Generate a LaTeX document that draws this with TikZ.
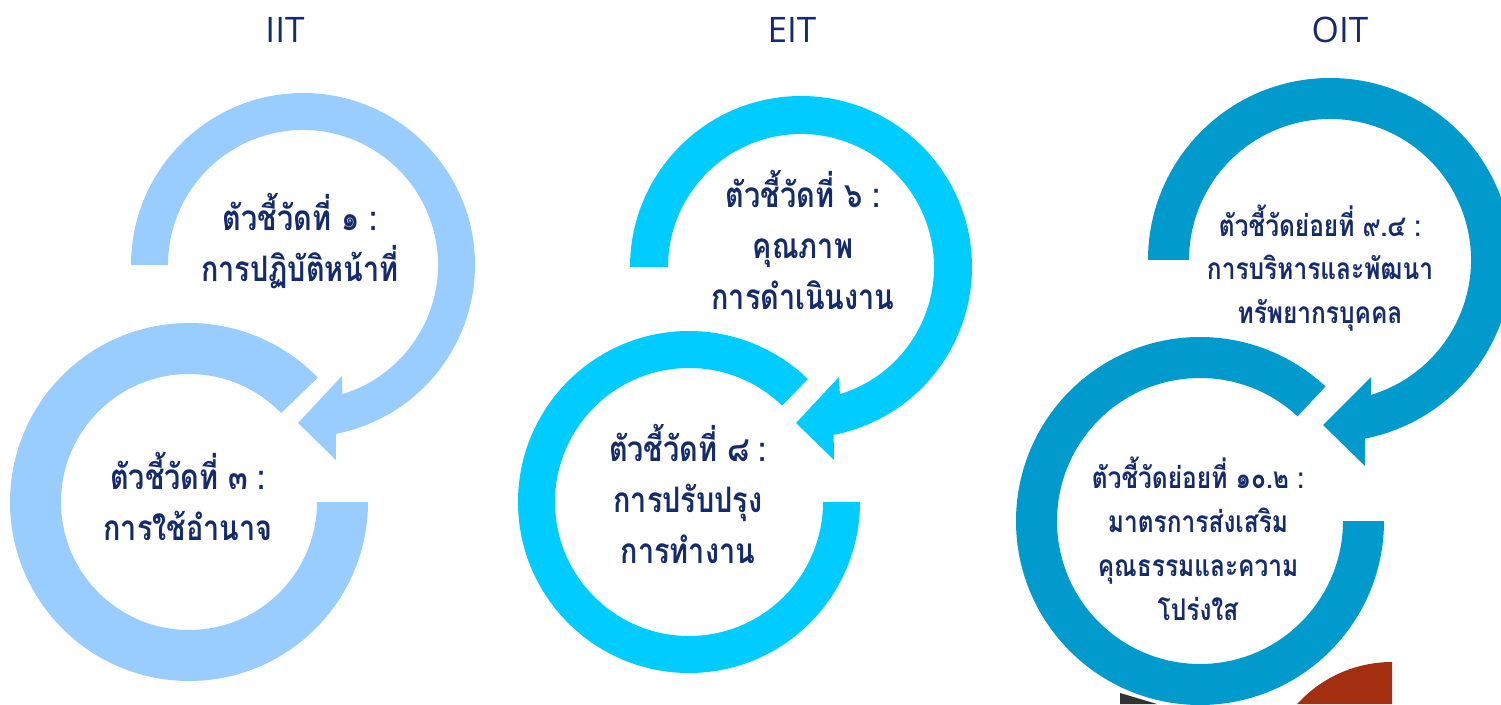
\documentclass[tikz,border=0pt]{standalone}
\usepackage{fontspec}
\setmainfont{Open Sans}
\newfontfamily\thaifont[Script=Thai, FakeStretch=0.82]{Loma}
\definecolor{iitblue}{HTML}{99CCFF}
\definecolor{eitblue}{HTML}{00CCFF}
\definecolor{oitblue}{HTML}{009BCC}
\definecolor{navy}{HTML}{152B6B}
\definecolor{rust}{HTML}{A32F10}
\definecolor{darkgrey}{HTML}{333333}
\tikzset{
  title/.style={text=navy, font=\fontsize{20}{24}\selectfont},
  label/.style={text=navy, align=center, font=\thaifont\bfseries\fontsize{20}{29}\selectfont},
  small label/.style={label, font=\thaifont\bfseries\fontsize{17}{25}\selectfont},
}
\begin{document}
\begin{tikzpicture}[x=0.02cm, y=0.02cm]
    \useasboundingbox (0,0) rectangle (1501,704);
    % pieces of a picture below the right column
    \fill[darkgrey] (1120,0) -- (1120,11) -- (1157,0) -- cycle;
    \fill[rust] (1392,0) -- (1392,42) arc[start angle=90, end angle=137.8, radius=128] -- cycle;
    % IIT
    \fill[iitblue] ([shift={(303,439)}]180:172) arc[start angle=180, end angle=-79, radius=172]
        -- (336,244) -- (298,281) -- (342,328)
        -- ([shift={(303,439)}]-73:135) arc[start angle=-73, end angle=180, radius=135] -- cycle;
    \fill[iitblue] ([shift={(189,202)}]0:179) arc[start angle=0, end angle=-316, radius=179]
        -- ([shift={(189,202)}]44:128) arc[start angle=44, end angle=360, radius=128] -- cycle;
    % EIT
    \fill[eitblue] ([shift={(801,437)}]180:171) arc[start angle=180, end angle=-79, radius=171]
        -- (834,244) -- (796,281) -- (839,327)
        -- ([shift={(801,437)}]-73:133) arc[start angle=-73, end angle=180, radius=133] -- cycle;
    \fill[eitblue] ([shift={(689,202)}]0:171) arc[start angle=0, end angle=-314, radius=171]
        -- ([shift={(689,202)}]46:134) arc[start angle=46, end angle=360, radius=134] -- cycle;
    % OIT
    \fill[oitblue] ([shift={(1330,444)}]180:182) arc[start angle=180, end angle=-79, radius=182]
        -- (1365,238) -- (1323,279) -- (1371,327)
        -- ([shift={(1330,444)}]-73:141) arc[start angle=-73, end angle=180, radius=141] -- cycle;
    \fill[oitblue] ([shift={(1200,183)}]0:184) arc[start angle=0, end angle=-313, radius=184]
        -- ([shift={(1200,183)}]47:143) arc[start angle=47, end angle=360, radius=143] -- cycle;

    \node (iit) [title] at (285,674) {IIT};
    \node (eit) [title] at (792,674) {EIT};
    \node (oit) [title] at (1340,674) {OIT};

    \node (k1) [label] at (300,463) {ตัวชี้วัดที่ ๑ :\\การปฏิบัติหน้าที่};
    \node (k3) [label] at (188,208) {ตัวชี้วัดที่ ๓ :\\การใช้อำนาจ};
    \node (k6) [label] at (803,464) {ตัวชี้วัดที่ ๖ :\\คุณภาพ\\การดำเนินงาน};
    \node (k8) [label] at (688,210) {ตัวชี้วัดที่ ๘ :\\การปรับปรุง\\การทำงาน};
    \node (k94) [small label] at (1320,436) {ตัวชี้วัดย่อยที่ ๙.๔ :\\การบริหารและพัฒนา\\ทรัพยากรบุคคล};
    \node (k102) [small label] at (1198,165) {ตัวชี้วัดย่อยที่ ๑๐.๒ :\\มาตรการส่งเสริม\\คุณธรรมและความ\\โปร่งใส};
\end{tikzpicture}
\end{document}
